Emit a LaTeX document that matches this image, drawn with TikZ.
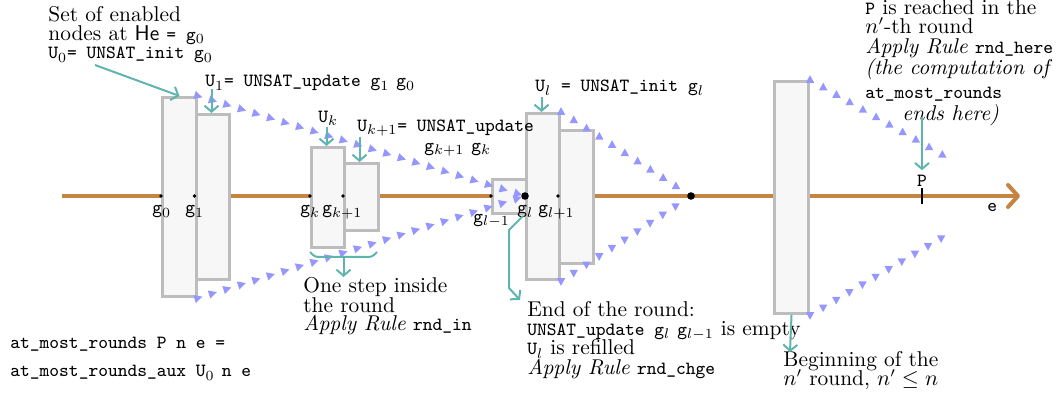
\documentclass[tikz,border=0pt]{standalone}
\usepackage{fontspec}
\usetikzlibrary{arrows.meta,decorations.markings,calc}
\definecolor{orng}{RGB}{198,132,66}
\definecolor{tealc}{RGB}{96,180,174}
\definecolor{trib}{RGB}{150,150,255}
\definecolor{boxd}{RGB}{189,189,189}
\definecolor{boxf}{RGB}{247,247,247}
\newcommand\ftxt{\fontsize{10.7pt}{9.5pt}\selectfont}
\newcommand\tx[1]{{\fontsize{9.3pt}{9.5pt}\selectfont\ttfamily #1}}
\newcommand\mlines[2]{\vtop{\baselineskip=#1\lineskiplimit=-50pt\lineskip=0pt #2}}
\begin{document}
\begin{tikzpicture}[x=0.5pt,y=-0.5pt,
  box/.style={draw=boxd, fill=boxf, line width=1.5pt, inner sep=0pt, anchor=north west},
  txt/.style={anchor=base west, inner sep=0pt, font=\ftxt},
  dot/.style={circle, fill=black, inner sep=0pt, minimum size=1.8pt},
  bigdot/.style={circle, fill=black, inner sep=0pt, minimum size=3.8pt},
  ann/.style={draw=tealc, line width=1pt, -{Straight Barb[length=3pt,width=7pt]}},
  brace/.style={draw=tealc, line width=1pt, rounded corners=1.5pt},
  axis/.style={draw=orng, line width=2pt, -{Straight Barb[length=5pt,width=11pt,round]}},
  triR/.style={postaction={decorate}, decoration={markings,
     mark=between positions 0 and #1 step 7.6pt with {\fill[trib] (2.3pt,0) -- (-1.8pt,2.1pt) -- (-1.8pt,-2.1pt) -- cycle;}}},
  triU/.style={postaction={decorate}, decoration={markings,
     mark=between positions 0 and #1 step 7.6pt with {\pgftransformresetnontranslations\fill[trib] (0,2.4pt) -- (-2.1pt,-1.4pt) -- (2.1pt,-1.4pt) -- cycle;}}},
  triD/.style={postaction={decorate}, decoration={markings,
     mark=between positions 0 and #1 step 7.6pt with {\pgftransformresetnontranslations\fill[trib] (0,-2.4pt) -- (-2.1pt,1.4pt) -- (2.1pt,1.4pt) -- cycle;}}},
]
\useasboundingbox (0,0) rectangle (1063,394);

% axis
\coordinate (axs) at (62,196);
\coordinate (axe) at (1020,196);
\draw[axis] (axs) -- (axe);

% boxes
\node[box, minimum width=17pt, minimum height=99.5pt] (b0) at (161,96) {};
\node[box, minimum width=16.5pt, minimum height=82.5pt] (b1) at (195,113) {};
\node[box, minimum width=16.5pt, minimum height=50pt] (bk) at (310,146) {};
\node[box, minimum width=17pt, minimum height=33.5pt] (bk1) at (343,162) {};
\node[box, minimum width=17pt, minimum height=17pt] (blm) at (491,178) {};
\node[box, minimum width=16.5pt, minimum height=83pt] (bl) at (525,112) {};
\node[box, minimum width=17pt, minimum height=66.5pt] (bl1) at (558,129) {};
\node[box, minimum width=17pt, minimum height=116pt] (bN) at (773,80) {};

% dots
\node[dot] (g0) at (161,196) {};
\node[dot] (g1) at (194.5,196) {};
\node[dot] (gk) at (310,196) {};
\node[dot] (gk1) at (343,196) {};
\node[dot] (glm) at (491,196) {};
\node[bigdot] (gl) at (525,196) {};
\node[dot] (gl1) at (558,196) {};
\node[bigdot] (gend) at (691,196) {};

% triangle rays
\coordinate (ne) at (955,162);
\coordinate (se) at (955,230);
\path[triR=1] (b0.north east) -- (gl.center);
\path[triR=1] (b0.south east) -- (gl.center);
\path[triU=0.92] (bl.north east) -- (gend.center);
\path[triD=0.92] (bl.south east) -- (gend.center);
\path[triU=0.92] (bN.north east) -- (ne);
\path[triD=0.92] (bN.south east) -- (se);

% P tick
\coordinate (ptop) at (922,188);
\coordinate (pbot) at (922,204);
\draw[line width=1pt] (ptop) -- (pbot);
\node[anchor=base, inner sep=0pt, font=\ftxt] (plab) at (922,187) {\tx{P}};
\node[txt] (elab) at (987,212) {\tx{e}};

% axis labels
\node[txt] (lg0) at (152,214) {\tx{g}$_0$};
\node[txt] (lg1) at (185,214) {\tx{g}$_1$};
\node[txt] (lgk) at (300,214) {\tx{g}$_k$};
\node[txt] (lgk1) at (322,214) {\tx{g}$_{k+1}$};
\node[txt] (lglm) at (473,222.5) {\tx{g}$_{l-1}$};
\node[txt] (lgl) at (517,214) {\tx{g}$_l$};
\node[txt] (lgl1) at (538,214) {\tx{g}$_{l+1}$};

% texts
\node[txt] (setn) at (48,21.7) {\mlines{9.3pt}{\hbox{Set of enabled}\hbox{nodes at \textsf{He} \tx{= g}$_0$}\hbox{\tx{U}$_0$\tx{= UNSAT\_init g}$_0$}}};
\node[txt] (u1) at (205,87) {\tx{U}$_1$\tx{= UNSAT\_update g}$_1$ \tx{g}$_0$};
\node[txt] (uk) at (318,122.5) {\tx{U}$_k$};
\node[txt] (ukp) at (357,131.5) {\mlines{10pt}{\hbox{\tx{U}$_{k+1}$\tx{= UNSAT\_update}}\hbox{\hskip33.5pt\tx{g}$_{k+1}$ \tx{g}$_k$}}};
\node[txt] (ul) at (535,92) {\tx{U}$_l$\tx{\ = UNSAT\_init g}$_l$};
\node[txt] (onestep) at (303,293) {\mlines{9.5pt}{\hbox{One step inside}\hbox{the round}\hbox{\textit{Apply Rule} \tx{rnd\_in}}}};
\node[txt] (amr) at (10,349) {\mlines{14pt}{\hbox{\tx{at\_most\_rounds P n e =}}\hbox{\tx{at\_most\_rounds\_aux U}$_0$ \tx{n e}}}};
\node[txt] (endr) at (527,316.5) {\mlines{9.6pt}{\hbox{End of the round:}\hbox{\tx{UNSAT\_update g}$_l$ \tx{g}$_{l-1}$ is empty}\hbox{\tx{U}$_l$ is refilled}\hbox{\textit{Apply Rule} \tx{rnd\_chge}}}};
\node[txt] (beg) at (783,366.5) {\mlines{9.3pt}{\hbox{Beginning of the}\hbox{$n'$ round, $n'\leq n$}}};
\node[txt] (preach) at (865,14.5) {\mlines{9.5pt}{\hbox{\tx{P} is reached in the}\hbox{$n'$-th round}\vskip0.5pt\hbox{\textit{Apply Rule} \tx{rnd\_here}}\vskip1.2pt\hbox{\textit{(the computation of}}\vskip2.5pt\hbox{\tx{at\_most\_rounds}}\vskip1.2pt\hbox{\hskip18.5pt\textit{ends here)}}}};

% teal annotations
\coordinate (u0s) at (95,65);
\draw[ann] (u0s) -- (b0.north);
\coordinate (u1s) at (211.5,89);
\draw[ann] (u1s) -- (u1s |- b1.north);
\coordinate (uks) at (326.5,127);
\draw[ann] (uks) -- (uks |- bk.north);
\coordinate (ukps) at (359.5,137);
\draw[ann] (ukps) -- (ukps |- bk1.north);
\coordinate (uls) at (541.5,97);
\draw[ann] (uls) -- (uls |- bl.north);
\coordinate (ps) at (922,117);
\draw[ann, shorten >=2.5pt] (ps) -- (plab.north);
\coordinate (begs) at (790,352);
\draw[ann] (bN.south) -- (begs);
\coordinate (h1) at (523,216);
\coordinate (h2) at (509,230);
\coordinate (h3) at (509,288);
\coordinate (h4) at (520,300);
\draw[ann] (h1) -- (h2) -- (h3) -- (h4);
\coordinate (br1) at (310,252);
\coordinate (br2) at (315,257);
\coordinate (br3) at (372,257);
\coordinate (br4) at (377,252);
\coordinate (brm) at (343.5,257);
\coordinate (brs) at (343.5,277);
\draw[brace] (br1) -- (br2) -- (br3) -- (br4);
\draw[ann] (brm) -- (brs);
\end{tikzpicture}
\end{document}
